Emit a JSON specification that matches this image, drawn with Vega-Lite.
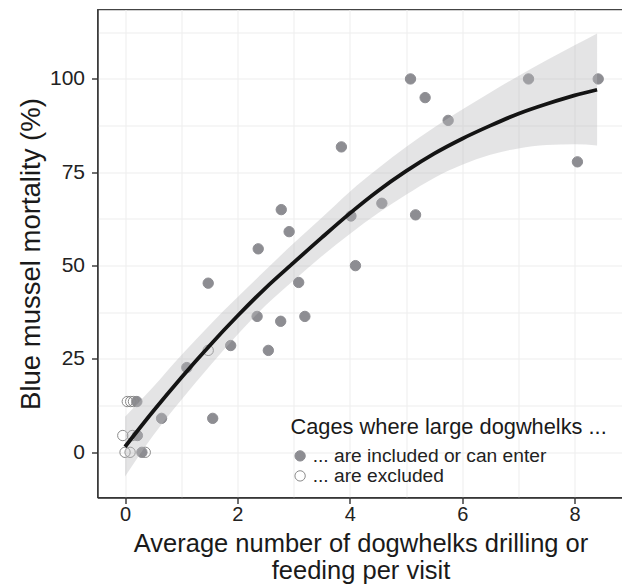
{
  "$schema": "https://vega.github.io/schema/vega-lite/v6.json",
  "autosize": {"type": "none"},
  "padding": {"left": 97.5, "top": 9.5, "right": 0, "bottom": 87.5},
  "width": 526,
  "height": 488,
  "background": "white",
  "config": {
    "font": "Liberation Sans",
    "view": {"stroke": "#444", "strokeWidth": 1.3},
    "axis": {
      "labelFont": "Liberation Sans",
      "titleFont": "Liberation Sans",
      "labelColor": "#222",
      "titleColor": "#1a1a1a",
      "titleFontWeight": "normal",
      "domainColor": "#333",
      "domainWidth": 1.3,
      "tickColor": "#222",
      "tickWidth": 1.3,
      "tickSize": 6,
      "gridColor": "#eeeeee",
      "gridWidth": 1.1
    },
    "legend": {"labelFont": "Liberation Sans", "titleFont": "Liberation Sans"}
  },
  "layer": [
    {
      "data": {
        "values": [
          {"x": 0.21, "y": 13.6, "cages": "... are included or can enter"},
          {"x": 0.22, "y": 4.5, "cages": "... are included or can enter"},
          {"x": 0.30, "y": 0, "cages": "... are included or can enter"},
          {"x": 0.65, "y": 9.1, "cages": "... are included or can enter"},
          {"x": 1.10, "y": 22.7, "cages": "... are included or can enter"},
          {"x": 1.48, "y": 45.3, "cages": "... are included or can enter"},
          {"x": 1.56, "y": 9.1, "cages": "... are included or can enter"},
          {"x": 1.88, "y": 28.6, "cages": "... are included or can enter"},
          {"x": 2.35, "y": 36.4, "cages": "... are included or can enter"},
          {"x": 2.37, "y": 54.5, "cages": "... are included or can enter"},
          {"x": 2.55, "y": 27.3, "cages": "... are included or can enter"},
          {"x": 2.77, "y": 35.1, "cages": "... are included or can enter"},
          {"x": 2.78, "y": 65.0, "cages": "... are included or can enter"},
          {"x": 2.92, "y": 59.1, "cages": "... are included or can enter"},
          {"x": 3.09, "y": 45.5, "cages": "... are included or can enter"},
          {"x": 3.20, "y": 36.4, "cages": "... are included or can enter"},
          {"x": 3.85, "y": 81.8, "cages": "... are included or can enter"},
          {"x": 4.02, "y": 63.3, "cages": "... are included or can enter"},
          {"x": 4.10, "y": 50.0, "cages": "... are included or can enter"},
          {"x": 4.57, "y": 66.7, "cages": "... are included or can enter"},
          {"x": 5.08, "y": 100, "cages": "... are included or can enter"},
          {"x": 5.17, "y": 63.6, "cages": "... are included or can enter"},
          {"x": 5.34, "y": 95.0, "cages": "... are included or can enter"},
          {"x": 5.75, "y": 88.9, "cages": "... are included or can enter"},
          {"x": 7.18, "y": 100, "cages": "... are included or can enter"},
          {"x": 8.05, "y": 77.8, "cages": "... are included or can enter"},
          {"x": 8.42, "y": 100, "cages": "... are included or can enter"},
          {"x": 0.04, "y": 13.6, "cages": "... are excluded"},
          {"x": 0.10, "y": 13.6, "cages": "... are excluded"},
          {"x": 0.15, "y": 13.6, "cages": "... are excluded"},
          {"x": -0.04, "y": 4.5, "cages": "... are excluded"},
          {"x": 0.13, "y": 4.5, "cages": "... are excluded"},
          {"x": 0.0, "y": 0, "cages": "... are excluded"},
          {"x": 0.09, "y": 0, "cages": "... are excluded"},
          {"x": 0.36, "y": 0, "cages": "... are excluded"},
          {"x": 1.48, "y": 27.3, "cages": "... are excluded"}
        ]
      },
      "mark": {"type": "circle", "size": 107, "opacity": 1, "strokeWidth": 1},
      "encoding": {
        "x": {
          "field": "x", "type": "quantitative",
          "scale": {"domain": [-0.49, 8.87], "nice": false, "zero": false},
          "axis": {
            "values": [0, 1, 2, 3, 4, 5, 6, 7, 8],
            "format": "d",
            "labelExpr": "datum.value % 2 == 0 ? datum.label : ''",
            "tickOpacity": {"condition": {"test": "datum.value % 2 != 0", "value": 0}, "value": 1},
            "labelFontSize": 20,
            "labelPadding": 1,
            "title": ["Average number of dogwhelks drilling or", "feeding per visit"],
            "titleFontSize": 25.5,
            "titleLineHeight": 27,
            "titlePadding": 7
          }
        },
        "y": {
          "field": "y", "type": "quantitative",
          "scale": {"domain": [-12.1, 118.6], "nice": false, "zero": false},
          "axis": {
            "values": [0, 12.5, 25, 37.5, 50, 62.5, 75, 87.5, 100, 112.5],
            "labelExpr": "datum.value % 25 == 0 ? datum.label : ''",
            "tickOpacity": {"condition": {"test": "datum.value % 25 != 0", "value": 0}, "value": 1},
            "labelFontSize": 21,
            "labelPadding": 7,
            "title": "Blue mussel mortality (%)",
            "titleFontSize": 27.5,
            "titlePadding": 4
          }
        },
        "fill": {
          "field": "cages", "type": "nominal",
          "scale": {"domain": ["... are included or can enter", "... are excluded"], "range": ["#8d8d92", "transparent"]},
          "legend": {
            "orient": "none", "legendX": 193, "legendY": 407,
            "title": "Cages where large dogwhelks ...",
            "titleFontSize": 21.8, "titleFontWeight": "normal", "titleColor": "#1a1a1a", "titleLimit": 0,
            "labelFontSize": 19.2, "labelColor": "#222", "labelLimit": 0,
            "symbolType": "circle", "symbolSize": 107, "symbolStrokeWidth": 1,
            "rowPadding": 0, "titlePadding": 8, "labelOffset": 3, "padding": 0
          }
        },
        "stroke": {
          "field": "cages", "type": "nominal",
          "scale": {"domain": ["... are included or can enter", "... are excluded"], "range": ["#8d8d92", "#8a8a8a"]},
          "legend": {
            "orient": "none", "legendX": 193, "legendY": 407,
            "title": "Cages where large dogwhelks ...",
            "titleFontSize": 21.8, "titleFontWeight": "normal", "titleColor": "#1a1a1a", "titleLimit": 0,
            "labelFontSize": 19.2, "labelColor": "#222", "labelLimit": 0,
            "symbolType": "circle", "symbolSize": 107, "symbolStrokeWidth": 1,
            "rowPadding": 0, "titlePadding": 8, "labelOffset": 3, "padding": 0
          }
        }
      }
    },
    {
      "data": {"name": "fit", "values": [
        {"x": 0.0, "fit": 1.5, "lo": -6.5, "hi": 9.5},
        {"x": 0.5, "fit": 11.0, "lo": 4.5, "hi": 17.5},
        {"x": 1.0, "fit": 20.0, "lo": 14.0, "hi": 26.0},
        {"x": 1.5, "fit": 28.5, "lo": 23.0, "hi": 34.0},
        {"x": 2.0, "fit": 36.5, "lo": 31.5, "hi": 41.5},
        {"x": 2.5, "fit": 44.0, "lo": 39.3, "hi": 48.8},
        {"x": 3.0, "fit": 50.8, "lo": 46.0, "hi": 56.0},
        {"x": 3.5, "fit": 57.5, "lo": 52.5, "hi": 62.8},
        {"x": 4.0, "fit": 64.0, "lo": 58.5, "hi": 69.8},
        {"x": 4.5, "fit": 70.0, "lo": 64.0, "hi": 76.0},
        {"x": 5.0, "fit": 75.3, "lo": 69.0, "hi": 81.8},
        {"x": 5.5, "fit": 80.0, "lo": 73.5, "hi": 87.0},
        {"x": 6.0, "fit": 84.0, "lo": 77.0, "hi": 91.8},
        {"x": 6.5, "fit": 87.5, "lo": 79.7, "hi": 96.4},
        {"x": 7.0, "fit": 90.7, "lo": 81.4, "hi": 100.8},
        {"x": 7.5, "fit": 93.3, "lo": 82.3, "hi": 105.0},
        {"x": 8.0, "fit": 95.6, "lo": 82.5, "hi": 109.0},
        {"x": 8.4, "fit": 97.1, "lo": 82.2, "hi": 112.2}
      ]},
      "mark": {"type": "area", "color": "#bbbbbf", "opacity": 0.4, "interpolate": "monotone"},
      "encoding": {
        "x": {"field": "x", "type": "quantitative"},
        "y": {"field": "lo", "type": "quantitative"},
        "y2": {"field": "hi"}
      }
    },
    {
      "data": {"name": "fit"},
      "mark": {"type": "line", "color": "#141414", "strokeWidth": 3.8, "interpolate": "monotone"},
      "encoding": {
        "x": {"field": "x", "type": "quantitative"},
        "y": {"field": "fit", "type": "quantitative"}
      }
    }
  ]
}
